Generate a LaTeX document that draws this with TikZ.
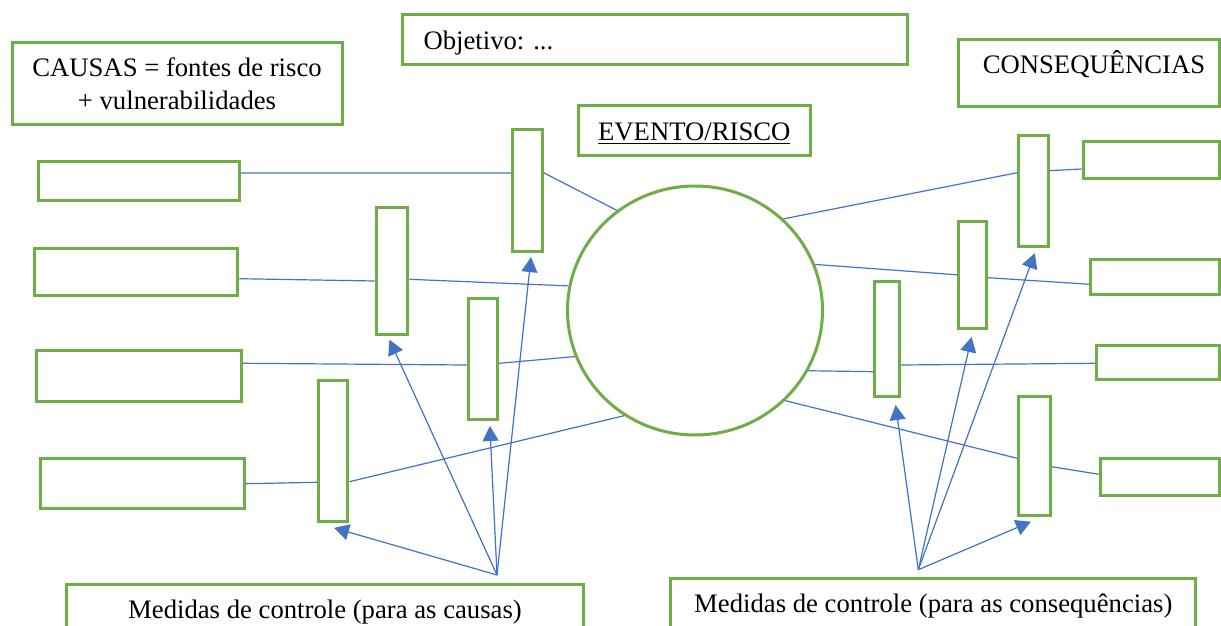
\documentclass[tikz,border=0pt]{standalone}
\usepackage{fontspec}
\setmainfont{Liberation Serif}
\usetikzlibrary{shapes.geometric,arrows.meta}
\definecolor{boxgreen}{HTML}{70AD47}
\definecolor{linkblue}{HTML}{4472C4}
\tikzset{
  box/.style={draw=boxgreen, line width=1.5pt, fill=white, rectangle, inner sep=0pt,
    font=\rmfamily\frenchspacing\fontsize{13.35pt}{16.5pt}\selectfont},
  txt/.style={text height=10.5pt, text depth=0.5pt},
  link/.style={draw=linkblue, line width=0.6pt},
  ctrl/.style={link, -{Triangle[length=7.5pt,width=8pt]}, fill=linkblue},
}
\begin{document}
\begin{tikzpicture}[x=0.5pt,y=-0.5pt]
\useasboundingbox (0,0) rectangle (1221,626);
\clip (0,0) rectangle (1221,626);
\fill[white] (0,0) rectangle (1221,626);

% header boxes
\node[box, minimum width=165pt, minimum height=40.8pt, align=center] (causas) at (177,83.3)
  {CAUSAS = fontes de risco\\+ vulnerabilidades};
\node[box, txt, minimum width=252.5pt, minimum height=25.2pt, inner xsep=10.5pt,
  text width=231.5pt, align=left] (obj) at (655,39.5) {Objetivo: ...};
\node[box, txt, minimum width=115.75pt, minimum height=24.7pt] (evlabel) at (694.3,130.5)
  {\underline{EVENTO/RISCO}};
\node[box, minimum width=130.5pt, minimum height=33.5pt, text height=9pt, text depth=7.7pt]
  (cons) at (1089,72.7) {\hspace*{5pt}CONSEQUÊNCIAS};

% central event
\node[draw=boxgreen, line width=1.5pt, fill=white, ellipse, inner sep=0pt,
  minimum width=127.5pt, minimum height=124.5pt] (risk) at (695,310.5) {};

% cause boxes
\node[box, minimum width=100.5pt, minimum height=19.5pt] (cb1) at (139,181) {};
\node[box, minimum width=101.8pt, minimum height=23.5pt] (cb2) at (136,272) {};
\node[box, minimum width=102.7pt, minimum height=25.5pt] (cb3) at (138.8,376.3) {};
\node[box, minimum width=101.8pt, minimum height=24.9pt] (cb4) at (142.2,483.7) {};

% cause control bars
\node[box, minimum width=14.9pt, minimum height=60.9pt] (cv1) at (527.2,190.7) {};
\node[box, minimum width=15.9pt, minimum height=63.5pt] (cv2) at (392,270.7) {};
\node[box, minimum width=14.6pt, minimum height=60.7pt] (cv3) at (482.9,358.8) {};
\node[box, minimum width=14.7pt, minimum height=70.5pt] (cv4) at (333.2,451.3) {};

% consequence control bars
\node[box, minimum width=14.7pt, minimum height=55.5pt] (rv1) at (1033.4,191) {};
\node[box, minimum width=14.1pt, minimum height=53.7pt] (rv2) at (972.4,274.8) {};
\node[box, minimum width=12.3pt, minimum height=57.7pt] (rv3) at (887.2,339.2) {};
\node[box, minimum width=15.7pt, minimum height=59.4pt] (rv4) at (1034.4,455.8) {};

% consequence boxes
\node[box, minimum width=68.25pt, minimum height=18.5pt] (kb1) at (1151.25,160) {};
\node[box, minimum width=64.35pt, minimum height=17.35pt] (kb2) at (1155.15,277.15) {};
\node[box, minimum width=61.4pt, minimum height=17pt] (kb3) at (1158.1,362.5) {};
\node[box, minimum width=59.5pt, minimum height=18.5pt] (kb4) at (1160,476.7) {};

% control measure boxes
\node[box, txt, minimum width=258.5pt, minimum height=24.1pt] (mc) at (325,608.3)
  {Medidas de controle (para as causas)};
\node[box, txt, minimum width=262.5pt, minimum height=24.5pt] (mk) at (933.3,602.7)
  {Medidas de controle (para as consequências)};

% cause connectors
\draw[link] ([yshift=4pt]cb1.east) -- ([yshift=8.85pt]cv1.west);
\draw[link] ([yshift=9pt]cv1.east) -- (risk.128);
\draw[link] ([yshift=-3.35pt]cb2.east) -- ([yshift=-5.15pt]cv2.west);
\draw[link] ([yshift=-4.3pt]cv2.east) -- (risk.169);
\draw[link] ([yshift=6.5pt]cb3.east) -- ([yshift=-3.1pt]cv3.west);
\draw[link] ([yshift=-2.25pt]cv3.east) -- (risk.201);
\draw[link] (cb4.east) -- ([yshift=-15.5pt]cv4.west);
\draw[link] ([yshift=-15.2pt]cv4.east) -- (risk.236);

% consequence connectors
\draw[link] (risk.46) -- ([yshift=9.15pt]rv1.west);
\draw[link] ([yshift=10.15pt]rv1.east) -- ([yshift=-4.5pt]kb1.west);
\draw[link] (risk.21) -- (rv2.west);
\draw[link] ([yshift=-1.45pt]rv2.east) -- ([yshift=-3.55pt]kb2.west);
\draw[link] (risk.332) -- ([yshift=-16.25pt]rv3.west);
\draw[link] ([yshift=-12.9pt]rv3.east) -- ([yshift=-0.4pt]kb3.west);
\draw[link] (risk.315) -- ([yshift=-1.25pt]rv4.west);
\draw[link] ([yshift=-5.45pt]rv4.east) -- ([yshift=1.2pt]kb4.west);

% control arrows (causes)
\coordinate (capex) at ([xshift=86pt,yshift=3.85pt]mc.north);
\draw[ctrl] (capex) -- ([xshift=0.4pt,yshift=-2.3pt]cv4.south);
\draw[ctrl] (capex) -- ([xshift=-1.3pt,yshift=-2pt]cv2.south);
\draw[ctrl] (capex) -- ([xshift=3.5pt,yshift=-2.5pt]cv3.south);
\draw[ctrl] (capex) -- ([xshift=1.9pt,yshift=-2pt]cv1.south);

% control arrows (consequences)
\coordinate (kapex) at ([xshift=-7.5pt,yshift=3.5pt]mk.north);
\draw[ctrl] (kapex) -- ([xshift=4.2pt,yshift=-3.3pt]rv3.south);
\draw[ctrl] (kapex) -- ([xshift=-0.4pt,yshift=-3.5pt]rv2.south);
\draw[ctrl] (kapex) -- ([xshift=0.7pt,yshift=-2.6pt]rv1.south);
\draw[ctrl] (kapex) -- ([xshift=-1.75pt,yshift=-2.5pt]rv4.south);
\end{tikzpicture}
\end{document}
